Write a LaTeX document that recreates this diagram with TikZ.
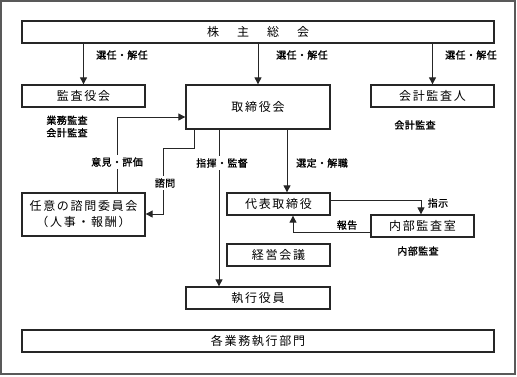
\documentclass[tikz,border=0pt]{standalone}
\usepackage{fontspec}
\setmainfont{Noto Sans CJK JP}
\newfontfamily\boxfont[LetterSpace=14]{Noto Sans CJK JP}
\newfontfamily\lblfont[FakeBold=1.2,LetterSpace=4]{Noto Sans CJK JP}
\usetikzlibrary{arrows.meta,calc}
\tikzset{
  orgbox/.style={draw=black!85, line width=1.3pt, fill=white, inner sep=0pt,
    font=\boxfont\fontsize{12}{16}\selectfont, align=center},
  lbl/.style={font=\lblfont\fontsize{10}{12.5}\selectfont, inner sep=1pt},
  lblw/.style={lbl, fill=white, inner sep=2pt},
  conn/.style={draw=black!85, line width=0.9pt},
  arr/.style={conn, -{Triangle[length=7pt,width=7pt]}},
}
\begin{document}
\begin{tikzpicture}[x=1pt,y=-1pt]
\useasboundingbox (0,0) rectangle (517,376);
\draw[black!65, line width=2pt] (1,1) rectangle (515,374);

\node[orgbox, minimum width=472pt, minimum height=22pt] (kabu) at (258,32) {株\hspace{18pt}主\hspace{18pt}総\hspace{18pt}会};
\node[orgbox, minimum width=123pt, minimum height=22pt] (kansa) at (83.5,96) {監査役会};
\node[orgbox, minimum width=144pt, minimum height=44pt] (tori) at (258,107) {取締役会};
\node[orgbox, minimum width=123pt, minimum height=22pt] (kaikei) at (432.5,96) {会計監査人};
\node[orgbox, minimum width=103pt, minimum height=22pt] (daihyo) at (278.5,204) {代表取締役};
\node[orgbox, minimum width=103pt, minimum height=22pt] (keiei) at (278.5,255) {経営会議};
\node[orgbox, minimum width=144pt, minimum height=22pt] (shikko) at (258,298) {執行役員};
\node[orgbox, minimum width=472pt, minimum height=22pt] (kakubu) at (258,341) {各業務執行部門};
\node[orgbox, minimum width=123pt, minimum height=43pt] (nini) at (83.5,214.5) {任意の諮問委員会\\（人事・報酬）};
\node[orgbox, minimum width=103pt, minimum height=22pt] (naibu) at (422.5,226) {内部監査室};

% from shareholders
\draw[arr] (kabu.south -| kansa.north) -- (kansa.north);
\draw[arr] (kabu.south -| tori.north) -- (tori.north);
\draw[arr] (kabu.south -| kaikei.north) -- (kaikei.north);
\node[lbl] (l1) at (122,55) {選任・解任};
\node[lbl] (l2) at (302,55) {選任・解任};
\node[lbl] (l3) at (471,55) {選任・解任};

\node[lbl, align=left] (l4) at (67,126.5) {業務監査\\会計監査};
\node[lbl] (l5) at (415,125) {会計監査};

% board -> representative director
\draw[arr] (tori.south -| 287,0) -- (daihyo.north -| 287,0);
\node[lbl] (l6) at (322,163) {選定・解職};

% committee -> board
\coordinate (c1) at (117,117);
\draw[arr] (nini.north -| c1) -- (c1) -- (tori.west |- c1);
\node[lblw] (l7) at (117,162) {意見・評価};

% board -> committee
\coordinate (c2) at (194,148);
\coordinate (c3) at (163,148);
\coordinate (c4) at (163,214);
\draw[arr] (tori.south -| c2) -- (c2) -- (c3) -- (c4) -- (nini.east |- c4);
\node[lblw] (l8) at (165,183) {諮問};

% board -> executive officers
\draw[arr] (tori.south -| 219,0) -- (shikko.north -| 219,0);
\node[lblw] (l9) at (222,163) {指揮・監督};

% representative -> internal audit
\coordinate (c5) at (421,200);
\draw[arr] (daihyo.east |- c5) -- (c5) -- (naibu.north -| c5);
\node[lbl] (l10) at (438,203) {指示};

% internal audit -> representative
\coordinate (c6) at (293,232);
\draw[arr] (naibu.west |- c6) -- (c6) -- (daihyo.south -| c6);
\node[lbl] (l11) at (347,225) {報告};

\node[lbl] (l12) at (418,251) {内部監査};
\end{tikzpicture}
\end{document}
